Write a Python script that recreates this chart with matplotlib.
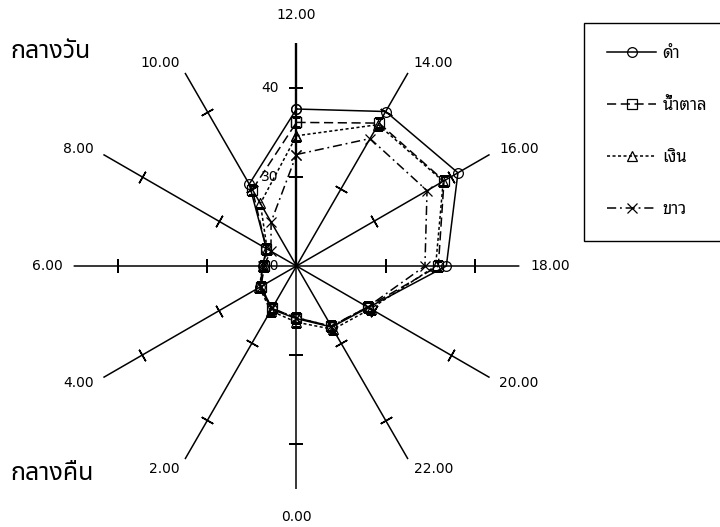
import matplotlib
matplotlib.use("Agg")
import matplotlib.pyplot as plt
import numpy as np
from matplotlib.lines import Line2D

plt.rcParams['font.family'] = ['DejaVu Sans', 'Noto Sans Thai Looped']

# เวลา (ตามเข็มนาฬิกาจาก 12.00)
hours = ["12.00", "14.00", "16.00", "18.00", "20.00", "22.00",
         "0.00", "2.00", "4.00", "6.00", "8.00", "10.00"]
r_ticks = [20, 30, 40]
r_max = 45

# อุณหภูมิแต่ละสี
black = [37.6, 40.0, 40.9, 36.8, 29.3, 27.9, 25.9, 25.6, 24.7, 23.8, 23.9, 30.6]
brown = [36.1, 38.5, 39.1, 35.9, 29.2, 27.8, 25.8, 25.5, 24.6, 23.6, 23.9, 29.9]
silver = [34.6, 38.3, 39.0, 35.6, 29.6, 28.2, 26.3, 25.8, 24.8, 23.8, 23.8, 28.1]
white = [32.5, 36.5, 36.9, 34.4, 29.2, 27.8, 25.8, 25.5, 24.6, 23.7, 23.3, 25.7]
names = ["ดำ", "น้ำตาล", "เงิน", "ขาว"]

fig = plt.figure(figsize=(7.2, 5.27), dpi=100)
ax = fig.add_axes([0.1021, 0.0721, 0.6194, 0.8463], projection='polar')
ax.set_theta_zero_location('N')
ax.set_theta_direction(-1)
ax.set_ylim(r_ticks[0], r_max)
ax.grid(False)
ax.set_xticks([])
ax.set_yticks([])
ax.spines['polar'].set_visible(False)
ax.patch.set_alpha(0)

angles = np.deg2rad(np.arange(len(hours)) * 30)

# แกนรัศมี + ขีด
for i, th in enumerate(angles):
    lw = 1.7 if i == 0 else 1.1
    ax.plot([th, th], [r_ticks[0], r_max], color='black', lw=lw, zorder=1)
    rot = 90 - np.rad2deg(th)
    for rt in r_ticks[1:]:
        ax.plot(th, rt, marker=(2, 2, rot), ms=9.5, mew=1.1, color='black', zorder=1)
    s, c = np.sin(th), np.cos(th)
    if abs(s) < 0.01:
        ha = 'center'
        off = (0, 20 * c)
    else:
        ha = 'left' if s > 0 else 'right'
        off = (8 * s, 8 * c)
    ax.annotate(hours[i], xy=(th, r_max), xytext=off, textcoords='offset points',
                ha=ha, va='center', fontsize=10, annotation_clip=False)

# ตัวเลขบนแกน 12.00
for rt in r_ticks:
    ax.annotate(str(rt), xy=(0, rt), xytext=(-13, 0), textcoords='offset points',
                ha='right', va='center', fontsize=10, zorder=0)

styles = [
    dict(ls='-', marker='o', ms=7),
    dict(ls=(0, (6, 3)), marker='s', ms=6.5),
    dict(ls=(0, (2, 1.6)), marker='^', ms=6.5),
    dict(ls=(0, (6, 2.5, 1.2, 2.5)), marker='x', ms=6.5),
]
th_closed = np.append(angles, angles[0])
handles = []
for vals, st, name in zip([black, brown, silver, white], styles, names):
    v = np.append(vals, vals[0])
    ax.plot(th_closed, v, color='black', lw=1.1, ls=st['ls'], marker=st['marker'],
            ms=st['ms'], mfc='none', mec='black', mew=0.9, zorder=3)
    handles.append(Line2D([], [], color='black', lw=1.1, ls=st['ls'], marker=st['marker'],
                          ms=st['ms'], mfc='none', mec='black', mew=0.9))

leg = fig.legend(handles, names, loc='upper left', bbox_to_anchor=(584 / 720, 1 - 23 / 527),
                 borderaxespad=0, handlelength=2.9, handletextpad=0.4,
                 labelspacing=2.15, borderpad=1.4, fancybox=False, framealpha=1,
                 edgecolor='black', numpoints=1,
                 prop={'family': ['Noto Sans Thai Looped'], 'size': 12})
leg.get_frame().set_linewidth(1.0)

fig.text(10 / 720, 1 - 52 / 527, "กลางวัน", fontsize=18, va='center', ha='left',
         family=['Noto Sans Thai'])
fig.text(10 / 720, 1 - 473 / 527, "กลางคืน", fontsize=18, va='center', ha='left',
         family=['Noto Sans Thai'])

fig.savefig("out.png", dpi=100)
